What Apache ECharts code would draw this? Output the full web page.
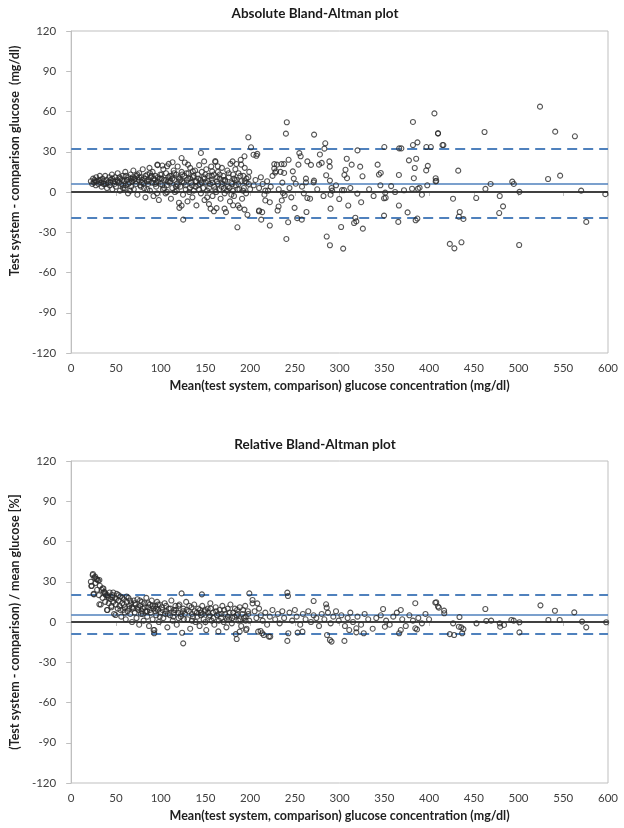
<!DOCTYPE html>
<html>
<head>
<meta charset="utf-8">
<script src="https://cdn.jsdelivr.net/npm/echarts@6/dist/echarts.min.js"></script>
<style>
html,body{margin:0;padding:0;background:#fff;}
#chart{width:624px;height:828px;}
</style>
</head>
<body>
<div id="chart"></div>
<script>
// ---------- DATA ----------
const xTicks = [0, 600, 50];          // min, max, step
const yTicks = [-120, 120, 30];

// Absolute Bland-Altman: [mean glucose, difference mg/dl]
const absDense = [
[22,8],[23.5,6],[24.5,10],[25.5,7],[26,9],[27.5,5],[28,11],[29,8],[30.5,6],[31,9],[32,12],[33.5,7],[34,4],[35,10],[36.5,8],[37,6],[38,12],[39.5,9],[40,3],[41,7],[42.5,11],[43,5],[44,9],[45.5,13],[46,2],[47,8],[48.5,6],[49,11],[50,4],[51.5,9],[52,14],[53,7],[54.5,1],[55,10],[56,6],[57.5,12],[58,3],[59,8],[60.5,15],[61,5],[62,9],[63.5,-1],[64,11],[65,7],[66.5,13],[67,4],[68,8],[69.5,16],[70,2],[71,10],[72.5,6],[73,12],[74,-2],[75.5,9],[76,14],[77,5],[78.5,11],[79,7],[80,17],[81.5,3],[82,10],[83,-4],[84.5,8],[85,13],[86,6],[87.5,18],[88,1],[89,11],[90.5,7],[91,15],[92,-3],[93.5,9],[94,12],[95,4],[96.5,20],[97,8],[98,-6],[99.5,13],[100,6],[101,10],[102.5,2],[103,17],[104,9],[105.5,-1],[106,14],[107,5],[108.5,11],[109,21],[110,7],[111.5,-5],[112,12],[113,3],[114.5,16],[115,9],[116,0],[117.5,13],[118,6],[119,19],[120.5,-8],[121,10],[122,4],[123.5,15],[124,8],[125,-2],[126.5,12],[127,22],[128,5],[129.5,9],[130,-7],[131,14],[132.5,3],[133,18],[134,7],[135.5,-4],[136,11],[137,1],[138.5,16],[139,8],[140,-10],[141.5,13],[142,5],[143,20],[144.5,9],[145,-1],[146,15],[147.5,3],[148,11],[149,-6],[150.5,7],[151,17],[152,1],[153.5,12],[154,-9],[155,6],[156.5,19],[157,9],[158,-3],[159.5,13],[160,4],[161,23],[162.5,-12],[163,8],[164,15],[165.5,2],[166,10],[167,-5],[168.5,18],[169,6],[170,12],[171.5,-1],[172,9],[173,-15],[174.5,16],[175,4],[176,11],[177.5,-7],[178,21],[179,7],[180.5,1],[181,13],[182,-3],[183.5,17],[184,5],[185,9],[186.5,-10],[187,14],[188,2],[189.5,24],[190,8],[191,-5],[192.5,12],[193,3],[194,18],[195.5,-1],[196,10],[197,-17],[198.5,6],[199,15],[200,2],
[36,6],[44,7],[52,8],[58,5],[63,9],[67,10],[72,8],[76,11],[81,6],[86,9],[90,12],[95,7],[99,10],[104,3],[108,8],[113,10],[117,4],[122,9],[126,7],[131,10],[135,5],[140,8],[144,6],[149,10],[154,3],[158,7],[163,11],[168,4],[172,8],[177,3],[182,10],[187,6],[192,1],[196,7],
[27,8],[33,9],[39,6],[46,10],[49,8],[54,11],[57,9],[61,12],[64,6],[69,11],[70,9],[74,13],[78,4],[79,9],[83,12],[87,8],[88,14],[92,10],[94,6],[97,11],[101,13],[102,5],[106,9],[110,12],[111,8],[115,14],[119,5],[120,11],[124,13],[128,2],[129,14],[133,10],[137,12],[139,4],[142,10],[146,7],[150,13],[153,8],[157,12],[161,2],[164,6],[166,13],[170,9],[174,1],[176,14],[180,6],[183,9],[186,2],[189,12],[194,8],[198,11],[60,3],[66,1],[85,2],[96,-1],[107,0],[118,1],[132,0],[143,2],[152,-4],[162,0],[171,3],[179,-2]
];
const absSparse = [
[241,52],[240,43.5],[271.5,42.8],[284,36.3],[406,58.6],[382,52.2],[410,43.7],[240.5,-35],[285.6,-33.2],[289.2,-39.7],[304,-42.2],[326,-27.3],[222,-25],
[350,33.5],[366.6,32.5],[369,32.5],[382,35],[387,37],[397,33.5],[402,33.5],[415,35],[320,31],[283,32.3],
[208,28.4],[207,27],[227,20.8],[230,20.4],[235,20.8],[238,20.8],[227,17.5],[229,15.5],[234,15],[238,14.2],[228,14.5],[243,24],[255,29],[256.5,26.6],[254,20.4],[264,22.8],[268,20.2],[278,28],[280,21.7],[277,20.4],[288.6,22.8],[289,18.9],[308,24.8],[313.5,20.4],[306.6,16.6],[323,18.9],[325.6,11.7],[342.5,20.4],[346,14.2],[344,13],[377.5,23.6],[385.6,24.8],[384,17.9],[398.6,19.5],[396.8,16.1],[247.7,15.4],[248.8,10],[262.4,10],[271.4,8.5],[285,12.5],[289.2,8.5],[305.4,12.7],[308.3,10.3],[407.4,10.3],[407.4,7.9],[366.3,12.7],[383,10.3],
[217,1],[220,1],[238.6,-2.4],[236.8,-0.7],[251,6.2],[262.4,7.2],[264,-4.5],[267,-5],[271,7.2],[291,3],[291.7,1],[289.9,-2],[302.7,1.4],[305,1.4],[319.8,-1.2],[345.6,5],[351,-0.5],[349.7,-4.7],[357.6,4.4],[372,1.3],[381,2.4],[387.6,2.4],[389.4,3.2],
[217,-6.3],[222,-7.6],[230.7,-13.8],[231.8,-10.8],[235.4,-6.3],[210,-13.8],[213.5,-15],[242.5,-22.5],[249.7,-11.8],[252.6,-19.5],[257.7,-20.6],[263,-14.9],[289.9,-12.4],[299.6,-5.2],[309.7,-10.1],[317.6,-19.2],[316.2,-23.1],[318.7,-21.9],[301.7,-26.1],[324.1,-7.6],[349.7,-17.6],[351.5,-4.3],[366.3,-10.1],[376,-15.2],[365.6,-22.3],[386.9,-19.8],[385,-21.1],
[524,63.6],[462,44.7],[541,45],[563,41.5],[410,43.7],[416,35],[432.6,15.9],[408,8.4],[463,2.3],[468.8,6],[493,7.7],[494.7,6],[501,0.1],[533,9.7],[546.5,12.2],[570,1],[597,-1.6],[426.8,-5],[452.7,-4.5],[479,-3],[482.7,-10.7],[478.4,-15.7],[434.3,-14.9],[433.3,-18.4],[438.4,-20.1],[575.7,-22.3],[423.2,-38.7],[428.3,-42],[436.2,-37.5],[500.7,-39.5],
[198,40.8],[201,33.3],[145,29.1],[123.4,25.3],[113.3,22.2],[193.7,26.6],[203.8,27.8],[148.6,22.8],[161.2,22.4],[163.8,19.2],[157.6,15.4],[180.4,22.8],[184.7,20.9],[190,20.4],[96.4,20.4],[101.8,19.7],[107.2,19.2],[130.6,20.4],[136,15.4],[123.4,-10.1],[120.9,-11.8],[125.2,-20.6],[155.8,-12.4],[159.5,-14.4],[171.4,-12.4],[185.8,-26.3],[181,-9.9],[188.3,-11.8],[193.7,-13.1],[209.9,-14.4],[212.4,-20.6],
[204,5],[206,9],[210,3],[212,11],[214,6],[216,-2],[219,8],[223,4],[225,12],[232,2],[236,7],[244,3],[246,-4],[258,4],[260,-1],[275,2],[282,-3],[296,5],[312,3],[333,2],[338,-3],[362,0],[392,-2],[398,5]
];
const absLines = { mean: 6.5, upper: 32.3, lower: -19.4 };

// Relative Bland-Altman: [mean glucose, difference %]
const relDense = [
[22,30],[23,27],[24,35],[25,21],[26,33],[27,29],[28,32],[29,24],[30,31],[31,20],[32,27],[33,13],[34,24],[35,18],[36,25],[37,22],[38,15],[39,20],[40,9],[41,19],[42,14],[43,22],[44,17],[45,11],[46,20],[47,15],[48,6],[49,18],[50,13],[51,21],[52,10],[53,16],[54,12],[55,19],[56,4],[57,14],[58,9],[59,17],[60,11],[61,2],[62,15],[63,8],[64,18],[65,12],[66,6],[67,14],[68,0],[69,10],[70,16],[71,7],[72,13],[73,3],[74,17],[75,9],[76,-2],[77,12],[78,6],[79,15],[80,10],[81,1],[82,14],[83,8],[84,18],[85,4],[86,11],[87,-3],[88,13],[89,7],[90,16],[91,2],[92,10],[93,-6],[94,12],[95,5],[96,15],[97,9],[98,0],[99,13],[100,7],
[101.5,11],[103,3],[104.5,14],[106,8],[107.5,-4],[109,10],[110.5,5],[112,16],[113.5,1],[115,9],[116.5,12],[118,-2],[119.5,7],[121,13],[122.5,4],[124,-8],[125.5,10],[127,6],[128.5,15],[130,2],[131.5,8],[133,-5],[134.5,11],[136,4],[137.5,13],[139,0],[140.5,7],[142,10],[143.5,-3],[145,5],[146.5,12],[148,2],[149.5,8],[151,-6],[152.5,10],[154,4],[155.5,14],[157,1],[158.5,7],[160,-2],[161.5,11],[163,5],[164.5,-7],[166,9],[167.5,3],[169,12],[170.5,0],[172,6],[173.5,-4],[175,10],[176.5,2],[178,13],[179.5,-1],[181,7],[182.5,4],[184,-9],[185.5,9],[187,1],[188.5,11],[190,-3],[191.5,6],[193,3],[194.5,12],[196,-5],[197.5,8],[199,1],
[45,12],[55,9],[65,10],[75,11],[85,8],[95,10],[105,6],[115,7],[125,8],[135,6],[145,7],[155,5],[165,6],[175,4],[185,5],[195,4],[60,7],[80,6],[120,3],[150,9],
[38,21],[42,18],[47,22],[50,17],[53,20],[57,18],[59,13],[62,19],[66,16],[68,11],[71,14],[74,10],[77,16],[79,8],[82,11],[86,14],[88,9],[91,12],[94,8],[97,13],[99,4],[102,9],[106,12],[108,6],[111,10],[114,4],[117,9],[120,12],[123,6],[126,2],[129,9],[132,12],[135,1],[138,8],[141,4],[144,9],[147,6],[150,0],[153,7],[156,10],[159,3],[162,8],[165,1],[168,6],[171,9],[174,2],[177,7],[180,3],[183,10],[186,6],[189,2],[192,9],[195,1],[198,6]
];
const relSparse = [
[24.3,35.8],[26.8,33.8],[29,31.8],[31.5,31.3],[22.5,26.8],[35.1,25.1],[36.9,22.6],[25.4,20.6],[40.5,20.1],[45.9,18.4],[31.5,13.2],[40.5,8.9],[49.5,5.2],[123.4,21.3],[146.1,20.6],[199.1,21.3],[202.7,16.4],[125.2,-15.9],[92.1,-6],[92.8,-8.4],[185,-12.7],[188.3,-7.2],[195.5,-6],[211.7,-6.7],[215.3,-9.7],[222.5,-10.9],
[241.6,21.9],[242.3,19.4],[271,15.6],[284.9,13.2],[285.6,10.7],[348.6,9.7],[368.4,9],[384.6,14],[407,14.4],[410,11.5],[417,6.5],[202.7,13.9],[208,13.9],
[209,-7.2],[213.5,-8.4],[221,-10.9],[242.7,-8.4],[241.6,-14.1],[253.1,-7.9],[258.5,-7.2],[286,-9.7],[289.2,-13.4],[291,-14.6],[305.4,-14.1],[310.8,-6],[318.7,-7.7],[327,-8.4],[318.7,-4.7],[350.6,-3.5],[368.4,-6],[366.6,-8.4],[384.6,-4.7],[386.5,-5.5],
[205,8],[207,3],[210,10],[212,5],[214,1],[217,7],[219,-2],[222,4],[225,9],[228,2],[231,6],[233,-1],[236,8],[238,3],[244,7],[247,1],[250,9],[252,4],[256,-2],[259,6],[262,2],[265,8],[268,0],[271,5],[274,3],[277,-3],[280,6],[283,2],[287,7],[290,-1],[293,4],[296,8],[299,1],[302,5],[306,-3],[309,3],[312,7],[315,0],[320,4],[324,-2],[328,6],[332,2],[337,-5],[341,3],[346,5],[352,1],[356,-2],[360,4],[364,7],[370,2],[374,-3],[378,5],[382,1],[388,3],[392,-1],[396,6],[400,2],
[408,14.7],[411,10.7],[416.8,8.5],[434,3.7],[426.9,-1],[433.3,-3.5],[436,-4],[438.4,-5.3],[437,-8.4],[423.2,-9],[428,-9.7],[453,-1],[464,0.8],[469.4,1],[479,-1],[479.5,-3.5],[483.8,-2.2],[492,1.5],[494.6,1],[501,-0.2],[501,-7.7],[524.5,12.4],[462.9,9.7],[540.7,8.4],[562.3,7.2],[533.4,1.5],[546,1.5],[571,0.3],[575.7,-4],[598,-0.2]
];
const relLines = { mean: 5.7, upper: 20.3, lower: -8.7 };

const titles = ['Absolute Bland-Altman plot', 'Relative Bland-Altman plot'];
const xName = 'Mean(test system, comparison) glucose concentration (mg/dl)';
const yNames = ['Test system - comparison glucose  (mg/dl)', '(Test system - comparison) / mean glucose [%]'];

// ---------- CHART ----------
const FONT = 'Lato, "Open Sans", sans-serif';
const chart = echarts.init(document.getElementById('chart'), null, {renderer: 'canvas'});
const grids = [
  {left: 52, top: 31, width: 556, height: 322},
  {left: 52, top: 461, width: 556, height: 322}
];
function xAxis(i) {
  return {
    gridIndex: i, type: 'value', min: xTicks[0], max: xTicks[1], interval: xTicks[2],
    name: xName, nameLocation: 'middle', nameGap: 26,
    nameTextStyle: {fontFamily: FONT, fontWeight: 'bold', fontSize: 12.5, color: '#1f1f1f'},
    axisLine: {lineStyle: {color: '#bfbfbf', width: 1}},
    axisTick: {show: true, length: 4, lineStyle: {color: '#bfbfbf'}},
    axisLabel: {fontFamily: FONT, fontSize: 11.5, color: '#404040', margin: 9},
    splitLine: {show: false}
  };
}
function yAxis(i, pad) {
  return {
    gridIndex: i, type: 'value', min: yTicks[0], max: yTicks[1], interval: yTicks[2],
    name: yNames[i], nameLocation: 'middle', nameGap: 36, nameRotate: 90,
    nameTextStyle: {fontFamily: FONT, fontWeight: 'bold', fontSize: 12.5, color: '#1f1f1f', padding: pad},
    axisLine: {show: true, lineStyle: {color: '#bfbfbf', width: 1}},
    axisTick: {show: true, length: 5, lineStyle: {color: '#bfbfbf'}},
    axisLabel: {fontFamily: FONT, fontSize: 11.5, color: '#404040', margin: 15},
    splitLine: {show: false}
  };
}
function refLines(L) {
  return {
    silent: true, symbol: 'none', label: {show: false}, z: 1,
    data: [
      {yAxis: 0, lineStyle: {color: '#404040', width: 2, type: 'solid'}},
      {yAxis: L.mean, lineStyle: {color: '#4f81bd', width: 1.5, type: 'solid'}},
      {yAxis: L.upper, lineStyle: {color: '#4f81bd', width: 2, type: [10, 6]}},
      {yAxis: L.lower, lineStyle: {color: '#4f81bd', width: 2, type: [10, 6]}}
    ]
  };
}
const pointStyle = {color: 'rgba(255,255,255,0)', borderColor: '#2b2b2b', borderWidth: 1.1};
chart.setOption({
  animation: false,
  backgroundColor: '#ffffff',
  title: [
    {text: titles[0], left: 310, top: 2, textAlign: 'center',
     textStyle: {fontFamily: FONT, fontWeight: 'bold', fontSize: 13.5, color: '#1a1a1a'}},
    {text: titles[1], left: 310, top: 433, textAlign: 'center',
     textStyle: {fontFamily: FONT, fontWeight: 'bold', fontSize: 13.5, color: '#1a1a1a'}}
  ],
  grid: grids.map(g => Object.assign({show: true, borderColor: '#bfbfbf', borderWidth: 1, backgroundColor: 'transparent'}, g)),
  xAxis: [xAxis(0), xAxis(1)],
  yAxis: [yAxis(0, [0, 0, 0, 62]), yAxis(1, [0, 0, 0, 0])],
  series: [
    {type: 'scatter', xAxisIndex: 0, yAxisIndex: 0, data: absDense.concat(absSparse),
     symbol: 'circle', symbolSize: 5, itemStyle: pointStyle, markLine: refLines(absLines), z: 3},
    {type: 'scatter', xAxisIndex: 1, yAxisIndex: 1, data: relDense.concat(relSparse),
     symbol: 'circle', symbolSize: 5, itemStyle: pointStyle, markLine: refLines(relLines), z: 3}
  ]
});
</script>
</body>
</html>
